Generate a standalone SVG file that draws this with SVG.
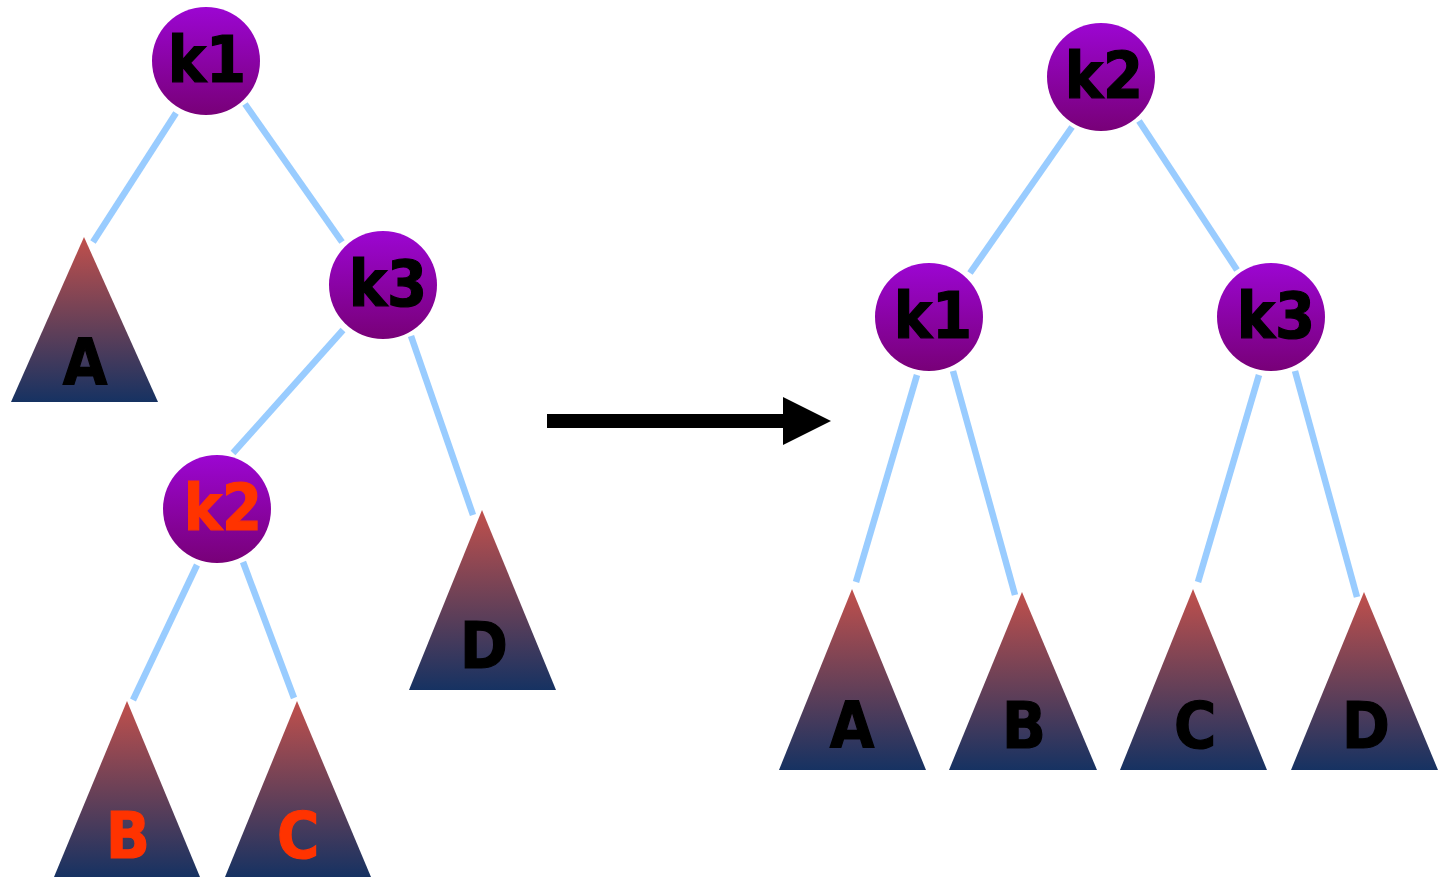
<svg xmlns="http://www.w3.org/2000/svg" width="1438" height="877" viewBox="0 0 1438 877">
<defs>
<linearGradient id="gc" x1="0" y1="0" x2="0" y2="1">
<stop offset="0" stop-color="#9c06d2"/>
<stop offset="1" stop-color="#780078"/>
</linearGradient>
<linearGradient id="gt" x1="0" y1="0" x2="0" y2="1">
<stop offset="0" stop-color="#c1504c"/>
<stop offset="1" stop-color="#163262"/>
</linearGradient>
<style>
.n{fill:url(#gc);}
.t{fill:url(#gt);}
.lb{font-family:"DejaVu Sans Condensed","DejaVu Sans",sans-serif;font-stretch:condensed;font-weight:bold;font-size:64px;text-anchor:middle;fill:#000;stroke:#000;stroke-width:1.2;}
.r{fill:#ff3300;stroke:#ff3300;}
.e line{stroke:#99ccff;stroke-width:6.5;}
</style>
</defs>
<rect width="1438" height="877" fill="#fff"/>
<g class="e" id="connectors">
<line x1="176" y1="113" x2="93" y2="242"/>
<line x1="245" y1="104" x2="342" y2="242"/>
<line x1="343" y1="330" x2="233" y2="453"/>
<line x1="411" y1="336" x2="473" y2="515"/>
<line x1="197" y1="565" x2="133" y2="700"/>
<line x1="243" y1="562" x2="294" y2="698"/>
<line x1="1072" y1="127" x2="970" y2="273"/>
<line x1="1139" y1="121" x2="1237" y2="270"/>
<line x1="917" y1="375" x2="856" y2="582"/>
<line x1="953" y1="371" x2="1015" y2="595"/>
<line x1="1259" y1="375" x2="1198" y2="582"/>
<line x1="1295" y1="371" x2="1357" y2="597"/>
<path d="M547 414 H783 V397 L831 421 L783 445 V428 H547 Z" fill="#000"/>
</g>
<g id="L_k1"><circle class="n" cx="206" cy="61" r="54"/><text class="lb" x="207" y="82">k1</text></g>
<g id="L_k3"><circle class="n" cx="383" cy="285" r="54"/><text class="lb" x="388" y="306">k3</text></g>
<g id="L_k2"><circle class="n" cx="217" cy="509" r="54"/><text class="lb r" x="223" y="530">k2</text></g>
<g id="L_A"><polygon class="t" points="84,237 11,402 158,402"/><text class="lb" x="85" y="385">A</text></g>
<g id="L_D"><polygon class="t" points="482,510 409,690 556,690"/><text class="lb" x="484" y="668">D</text></g>
<g id="L_B"><polygon class="t" points="127,701 54,877 200,877"/><text class="lb r" x="128" y="858">B</text></g>
<g id="L_C"><polygon class="t" points="297,701 225,877 371,877"/><text class="lb r" x="298" y="858">C</text></g>
<g id="R_k2"><circle class="n" cx="1101" cy="77" r="54"/><text class="lb" x="1104" y="98">k2</text></g>
<g id="R_k1"><circle class="n" cx="929" cy="317" r="54"/><text class="lb" x="933" y="338">k1</text></g>
<g id="R_k3"><circle class="n" cx="1271" cy="317" r="54"/><text class="lb" x="1276" y="338">k3</text></g>
<g id="R_A"><polygon class="t" points="852,589 779,770 926,770"/><text class="lb" x="852" y="748">A</text></g>
<g id="R_B"><polygon class="t" points="1022,592 949,770 1097,770"/><text class="lb" x="1024" y="748">B</text></g>
<g id="R_C"><polygon class="t" points="1193,589 1120,770 1267,770"/><text class="lb" x="1195" y="748">C</text></g>
<g id="R_D"><polygon class="t" points="1364,592 1291,770 1438,770"/><text class="lb" x="1366" y="748">D</text></g>
</svg>
